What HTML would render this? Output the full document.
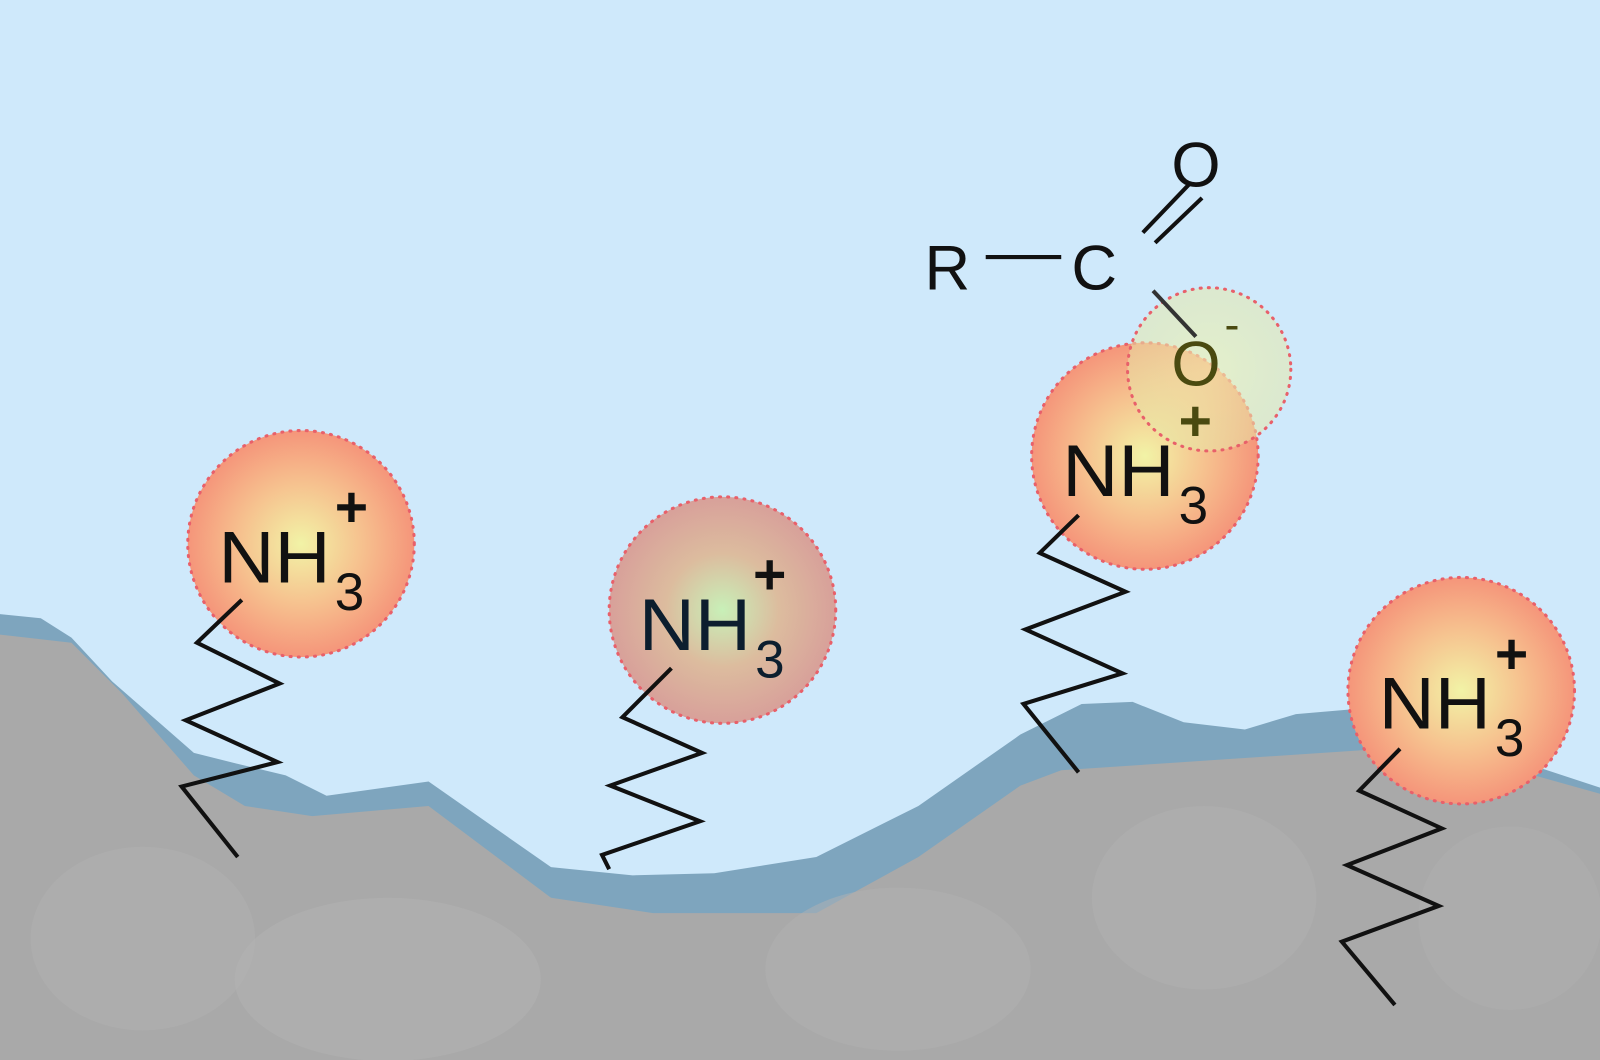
<!DOCTYPE html>
<html><head><style>html,body{margin:0;padding:0;background:#cfe9fb}svg{display:block}</style></head>
<body>
<svg width="1600" height="1060" viewBox="0 0 1568 1039" preserveAspectRatio="none" xmlns="http://www.w3.org/2000/svg" font-family="Liberation Sans, Arial, sans-serif">
<defs>
<radialGradient id="g1" cx="0.5" cy="0.5" r="0.5"><stop offset="0" stop-color="#f2f3a6"/><stop offset="0.55" stop-color="#f6c08e"/><stop offset="1" stop-color="#f5957a"/></radialGradient>
<radialGradient id="g2" cx="0.5" cy="0.5" r="0.5"><stop offset="0" stop-color="#c8f0b8"/><stop offset="0.5" stop-color="#dcbc9e"/><stop offset="1" stop-color="#d8a09a"/></radialGradient>
<radialGradient id="g3" cx="0.5" cy="0.5" r="0.5"><stop offset="0" stop-color="#f0f4b0" stop-opacity="0.85"/><stop offset="1" stop-color="#e6e8a8" stop-opacity="0.7"/></radialGradient>
</defs>
<rect width="1568" height="1039" fill="#cfe9fb"/>
<path d="M0,602 L40,606 L70,625 L110,668 L190,738 L230,748 L280,760 L320,780 L420,766 L540,850 L620,858 L700,856 L800,840 L900,790 L1000,720 L1060,690 L1110,688 L1160,708 L1220,715 L1270,700 L1340,694 L1440,730 L1568,772 L1568,1039 L0,1039Z" fill="#7ea5be"/>
<path d="M0,622 L70,630 L120,680 L190,760 L240,790 L306,800 L420,790 L540,880 L640,895 L800,895 L900,840 L1000,770 L1040,755 L1190,745 L1340,735 L1450,745 L1568,778 L1568,1039 L0,1039Z" fill="#a9a9a9"/>
<ellipse cx="140" cy="920" rx="110" ry="90" fill="#b0b0b0" opacity="0.6"/>
<ellipse cx="380" cy="960" rx="150" ry="80" fill="#b3b3b3" opacity="0.5"/>
<ellipse cx="880" cy="950" rx="130" ry="80" fill="#b1b1b1" opacity="0.5"/>
<ellipse cx="1180" cy="880" rx="110" ry="90" fill="#b2b2b2" opacity="0.5"/>
<ellipse cx="1480" cy="900" rx="90" ry="90" fill="#b0b0b0" opacity="0.5"/>
<g stroke="#e8606a" stroke-width="3" stroke-dasharray="1 7" stroke-linecap="round">
<circle cx="295" cy="533" r="111" fill="url(#g1)"/>
<circle cx="708" cy="598" r="111" fill="url(#g2)"/>
<circle cx="1122" cy="447" r="111" fill="url(#g1)"/>
<circle cx="1432" cy="677" r="111" fill="url(#g1)"/>
<circle cx="1185" cy="362" r="80" fill="url(#g3)" fill-opacity="0.75"/>
</g>
<g fill="none" stroke="#111" stroke-width="4" stroke-linejoin="miter">
<polyline points="237,588 193,630 274,670 182,706 272,747 178,771 233,840"/>
<polyline points="658,655 610,703 688,738 598,770 686,805 590,838 597,852"/>
<polyline points="1057,505 1019,542 1103,580 1005,617 1100,660 1003,690 1057,757"/>
<polyline points="1372,734 1332,775 1413,812 1320,848 1410,888 1315,923 1367,985"/>
</g>
<g fill="#111" font-size="72">
<text x="214" y="571" textLength="110" lengthAdjust="spacingAndGlyphs">NH</text><text x="328" y="598" font-size="52">3</text><text x="328" y="516" font-size="56" font-weight="bold">+</text>
<text x="626" y="637" fill="#0c1e2e" textLength="110" lengthAdjust="spacingAndGlyphs">NH</text><text x="740" y="664" font-size="52" fill="#0c1e2e">3</text><text x="738" y="582" font-size="56" font-weight="bold">+</text>
<text x="1041" y="486" textLength="110" lengthAdjust="spacingAndGlyphs">NH</text><text x="1155" y="513" font-size="52">3</text><text x="1155" y="432" font-size="56" font-weight="bold" fill="#4a4a10">+</text>
<text x="1351" y="714" textLength="110" lengthAdjust="spacingAndGlyphs">NH</text><text x="1465" y="741" font-size="52">3</text><text x="1465" y="660" font-size="56" font-weight="bold">+</text>
<text x="906" y="284" font-size="62">R</text>
<text x="1050" y="284" font-size="62">C</text>
<text x="1148" y="183" font-size="62">O</text>
<text x="1148" y="378" font-size="62" fill="#4a4a10">O</text>
<text x="1200" y="333" font-size="44" fill="#4a4a10">-</text>
</g>
<g stroke="#111" stroke-width="4">
<line x1="966" y1="252" x2="1040" y2="252"/>
<line x1="1120" y1="228" x2="1165" y2="181"/>
<line x1="1132" y1="238" x2="1178" y2="194"/>
<line x1="1130" y1="285" x2="1172" y2="330" stroke="#333"/>
</g>
</svg>
</body></html>
